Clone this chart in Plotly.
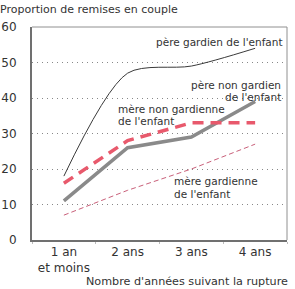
import plotly.graph_objects as go

categories = ["1 an<br>et moins", "2 ans", "3 ans", "4 ans"]
pere_gardien = [18, 47, 49, 54]
pere_non_gardien = [11, 26, 29, 39]
mere_non_gardienne = [16, 28, 33, 33]
mere_gardienne = [7, 14, 20, 27]
y_ticks = [0, 10, 20, 30, 40, 50, 60]

FONT = "DejaVu Sans"
TXT = "#333333"

fig = go.Figure()
fig.add_trace(go.Scatter(x=categories, y=mere_gardienne, mode="lines",
                         line=dict(color="#c9607a", width=1, dash="5px,3px")))
fig.add_trace(go.Scatter(x=categories, y=pere_gardien, mode="lines",
                         line=dict(color="#3a3a3a", width=1, shape="spline", smoothing=0.8)))
fig.add_trace(go.Scatter(x=categories, y=pere_non_gardien, mode="lines",
                         line=dict(color="#8a8a8a", width=3.5)))
fig.add_trace(go.Scatter(x=categories, y=mere_non_gardienne, mode="lines",
                         line=dict(color="#e8596c", width=3.5, dash="11px,7px")))

ann = [
    ("père gardien de l'enfant", 3.47, 55.8, "right"),
    ("père non gardien", 3.43, 43.8, "right"),
    ("de l'enfant", 3.43, 40.3, "right"),
    ("mère non gardienne", 0.81, 37.0, "left"),
    ("de l'enfant", 0.81, 33.6, "left"),
    ("mère gardienne", 1.70, 16.5, "left"),
    ("de l'enfant", 1.70, 13.1, "left"),
]
for t, x, y, a in ann:
    fig.add_annotation(x=x, y=y, xref="x", yref="y", text=t, showarrow=False,
                       xanchor=a, yanchor="middle",
                       font=dict(family=FONT, size=10.5, color=TXT))

fig.add_annotation(x=0, y=1, xref="paper", yref="paper", text="Proportion de remises en couple",
                   showarrow=False, xanchor="left", yanchor="middle", xshift=-34, yshift=18,
                   font=dict(family=FONT, size=11, color=TXT))
fig.add_annotation(x=1, y=0, xref="paper", yref="paper", text="Nombre d'années suivant la rupture",
                   showarrow=False, xanchor="right", yanchor="middle", yshift=-41, xshift=3,
                   font=dict(family=FONT, size=11.2, color=TXT))

fig.update_layout(
    width=295, height=289,
    margin=dict(l=32, r=8, t=27, b=49),
    paper_bgcolor="white", plot_bgcolor="white",
    showlegend=False,
    xaxis=dict(type="category", range=[-0.5, 3.5], showgrid=False, automargin=False,
               showline=True, linecolor="#707070", linewidth=2,
               ticks="outside", tickson="boundaries", ticklen=2, tickcolor="#bbbbbb",
               tickfont=dict(family=FONT, size=12, color=TXT)),
    yaxis=dict(range=[0, 60], tickvals=y_ticks, showgrid=True, automargin=False,
               gridcolor="#888888", griddash="1px,4px", gridwidth=1,
               showline=True, linecolor="#707070", linewidth=2,
               ticks="", ticklabelstandoff=11, zeroline=False,
               tickfont=dict(family=FONT, size=12, color=TXT)),
)
fig.add_shape(type="path", xref="paper", yref="paper",
              path="M 0 1 L 1 1 L 1 0", line=dict(color="#909090", width=1))

fig.write_html("out.html")
